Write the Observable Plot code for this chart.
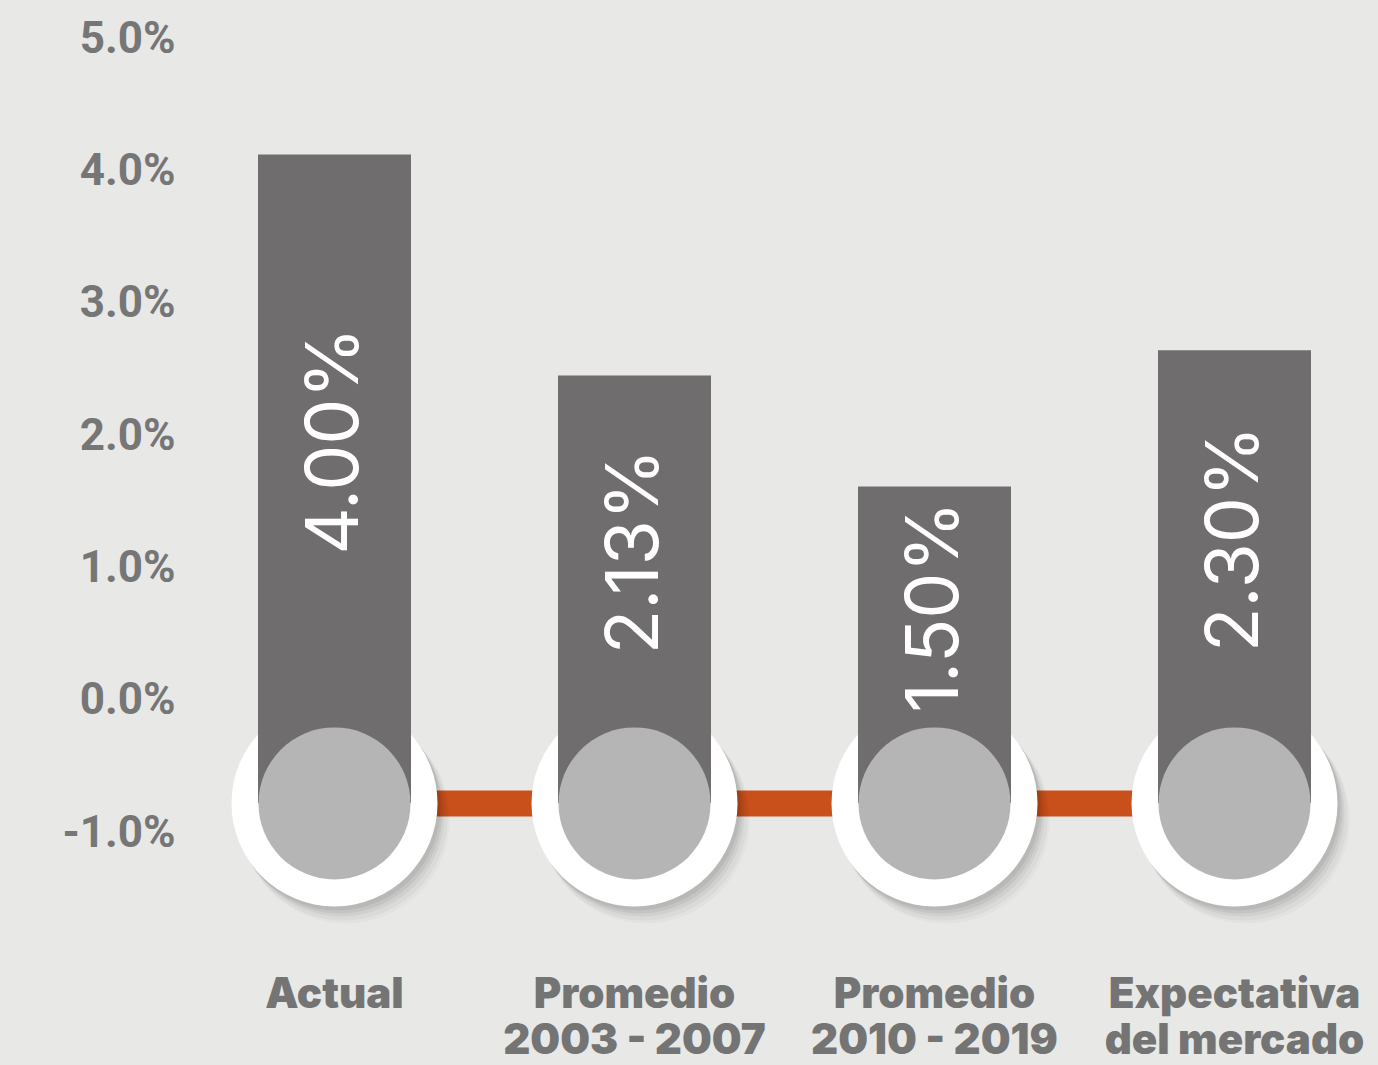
<!DOCTYPE html>
<html>
<head>
<meta charset="utf-8">
<script src="https://cdn.jsdelivr.net/npm/d3@7"></script>
<script src="https://cdn.jsdelivr.net/npm/@observablehq/plot@0.6"></script>
<style>
  html, body { margin: 0; padding: 0; background: #e8e8e6; }
  #chart svg { display: block; }
</style>
</head>
<body>
<div id="chart"></div>
<script>
// Categories (x axis labels)
const categories = ["Actual", "Promedio\n2003 - 2007", "Promedio\n2010 - 2019", "Expectativa\ndel mercado"];
// Bar top values as drawn against the axis (%)
const barTops = [4.12, 2.45, 1.61, 2.64];
// Value labels printed in the bars
const valueLabels = ["4.00%", "2.13%", "1.50%", "2.30%"];
// Level of the circle/connector baseline (%)
const baseLevel = -0.78;
// Level where the inner disc's top meets the bar (%)
const discTop = -0.2;
// Y axis ticks
const yTicks = [-1, 0, 1, 2, 3, 4, 5];

const rows = categories.map((c, i) => ({
  cat: c,
  top: barTops[i],
  base: baseLevel,
  label: valueLabels[i],
  mid: (barTops[i] + discTop) / 2
}));

// soft shadow layers (offset, radius, opacity)
const shadowLayers = [
  { d: 16, r: 104, o: 0.025 },
  { d: 13, r: 104, o: 0.035 },
  { d: 10, r: 103, o: 0.045 },
  { d: 7, r: 103, o: 0.055 },
  { d: 4, r: 103, o: 0.06 }
];

const chart = Plot.plot({
  width: 1378,
  height: 1065,
  marginLeft: 178,
  marginRight: 0,
  marginTop: 0,
  marginBottom: 0,
  style: { background: "#e8e8e6", overflow: "visible" },
  x: { type: "point", domain: categories, range: [333, 1235], padding: 0, axis: null },
  y: { domain: [-1, 5], range: [832, 38], axis: null },
  marks: [
    // orange connector
    Plot.ruleY([baseLevel], { y: d => d, x1: () => categories[0], x2: () => categories[categories.length - 1],
      stroke: "#c9501b", strokeWidth: 26 }),
    // shadows of the white rings
    ...shadowLayers.map(s => Plot.dot(rows, { x: "cat", y: "base", r: s.r, fill: "black", fillOpacity: s.o,
      stroke: null, dx: s.d * 0.7, dy: s.d })),
    // white rings
    Plot.dot(rows, { x: "cat", y: "base", r: 103, fill: "white", stroke: null }),
    // bars
    Plot.ruleX(rows, { x: "cat", y1: "base", y2: "top", stroke: "#6f6d6e", strokeWidth: 153 }),
    // inner discs
    Plot.dot(rows, { x: "cat", y: "base", r: 76, fill: "#b5b5b5", stroke: null }),
    // value labels
    Plot.text(rows, { x: "cat", y: "mid", text: "label", rotate: -90, fill: "white",
      fontSize: 73, fontFamily: "Inter, 'Open Sans', sans-serif", fontWeight: 400 }),
    // category labels
    Plot.text(rows, { x: "cat", y: () => -2.08, text: "cat", lineAnchor: "top", fill: "#747474",
      fontSize: 42, lineHeight: 1.1, fontFamily: "Inter, 'Open Sans', sans-serif", fontWeight: 900 }),
    // y axis
    Plot.axisY({ ticks: yTicks, tickFormat: d => d.toFixed(1) + "%", tickSize: 0, tickPadding: 3,
      fontSize: 44, fontWeight: 700, fontFamily: "Roboto, sans-serif", color: "#767676" })
  ]
});

document.getElementById("chart").appendChild(chart);
</script>
</body>
</html>
